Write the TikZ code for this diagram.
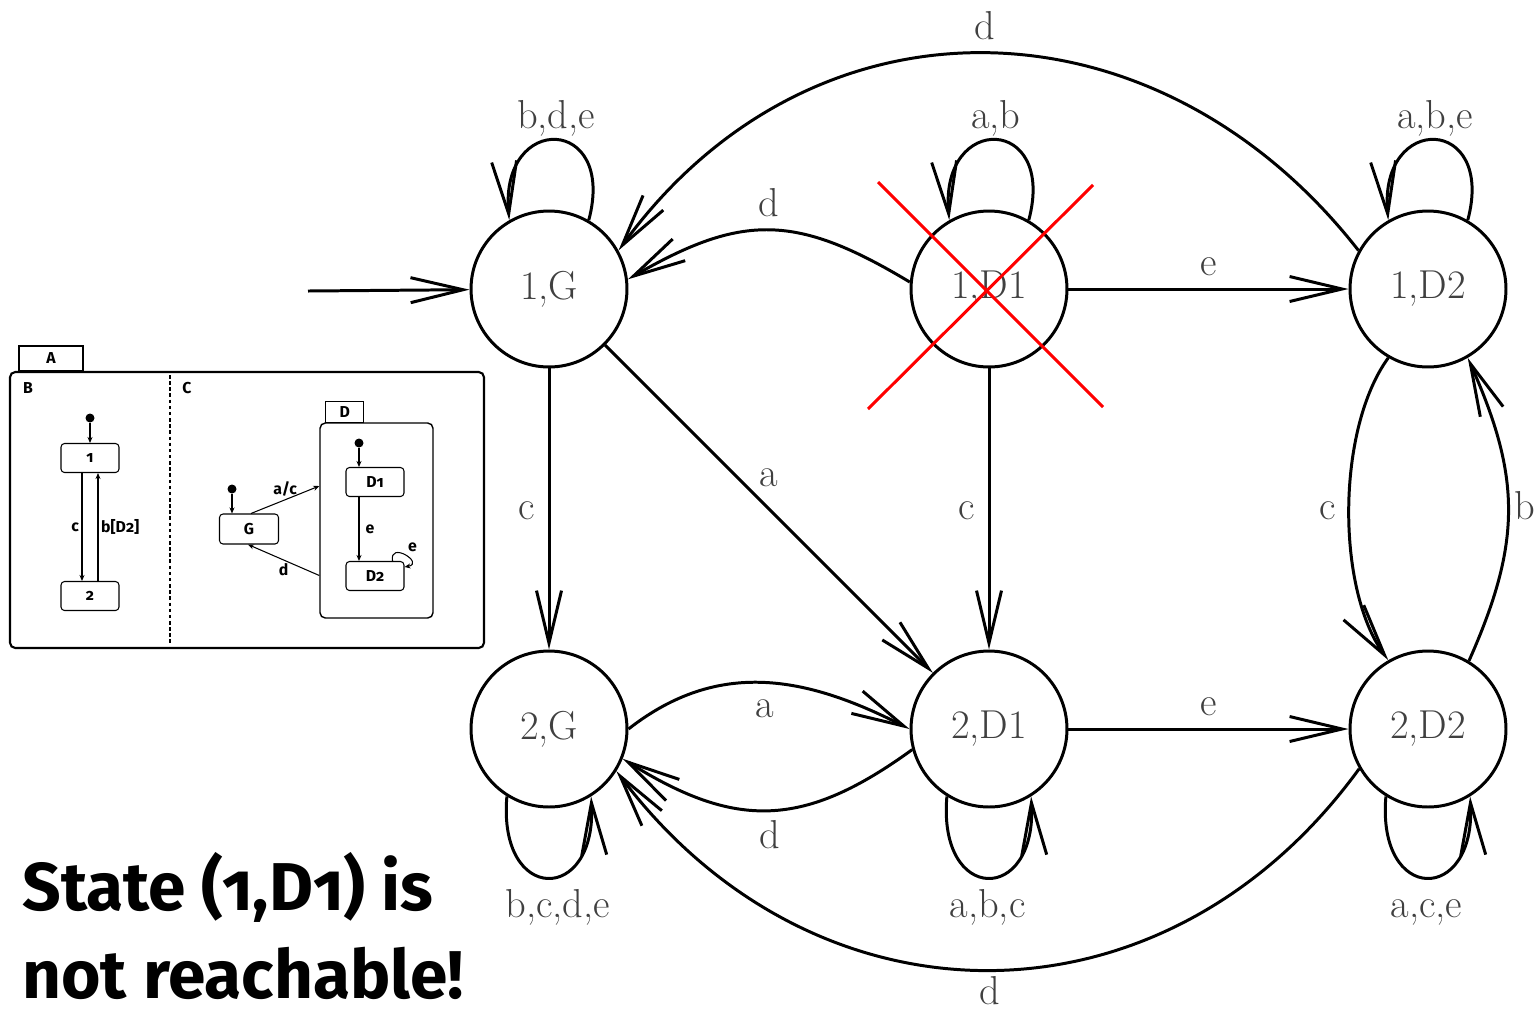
\documentclass[tikz,border=0pt]{standalone}
\usepackage{fontspec}
\newfontfamily\firasans[Numbers=OldStyle]{Fira Sans}
\usetikzlibrary{arrows.meta,positioning}

\begin{document}
\begin{tikzpicture}[x=0.02cm,y=0.02cm,
    prodstate/.style={draw,circle,line width=1.7pt,minimum size=3.12cm,inner sep=0pt,
      text=black!75,font=\fontsize{23}{27}\selectfont},
    trans/.style={line width=1.7pt,-{Straight Barb[length=1.05cm,width=0.5cm]}},
    lbl/.style={text=black!75,font=\fontsize{23}{27}\selectfont,inner sep=3pt,
      text height=16pt,text depth=4pt},
    crossout/.style={red,line width=1.7pt},
    bigtext/.style={anchor=base west,inner sep=0pt,font=\firasans\bfseries\fontsize{38.5}{44}\selectfont},
    ministate/.style={draw,rounded corners=2pt,line width=0.6pt,minimum width=1.16cm,
      minimum height=0.58cm,inner sep=0pt,font=\firasans\bfseries\fontsize{9}{10}\selectfont},
    minilbl/.style={font=\firasans\bfseries\fontsize{9}{10}\selectfont,inner sep=1.5pt},
    minitrans/.style={line width=0.6pt,-{Stealth[length=0.12cm,width=0.1cm]}},
    initdot/.style={circle,fill,inner sep=0pt,minimum size=0.18cm}]
\useasboundingbox (0,0) rectangle (1538,-1012);

% product automaton
\node [prodstate] (s1G)  at ( 549,-289) {1,G};
\node [prodstate] (s1D1) at ( 989,-289) {1,D1};
\node [prodstate] (s1D2) at (1428,-289) {1,D2};
\node [prodstate] (s2G)  at ( 549,-729) {2,G};
\node [prodstate] (s2D1) at ( 989,-729) {2,D1};
\node [prodstate] (s2D2) at (1428,-729) {2,D2};
\coordinate (start) at (308,-291);

\draw [trans] (start) -- (s1G);

% self loops
\draw [trans] (s1G.60)  to[out=75,in=95,looseness=3.5]
    node[lbl,above,inner sep=2pt] {b,d,e} (s1G.120);
\draw [trans] (s1D1.60) to[out=75,in=95,looseness=3.5]
    node[lbl,above,inner sep=2pt] {a,b} (s1D1.120);
\draw [trans] (s1D2.60) to[out=75,in=95,looseness=3.5]
    node[lbl,above,inner sep=2pt] {a,b,e} (s1D2.120);
\draw [trans] (s2G.238)  to[out=265,in=273,looseness=3.3]
    node[lbl,below=3pt,xshift=0.2cm] {b,c,d,e} (s2G.302);
\draw [trans] (s2D1.238) to[out=265,in=273,looseness=3.3]
    node[lbl,below=3pt] {a,b,c} (s2D1.302);
\draw [trans] (s2D2.238) to[out=265,in=273,looseness=3.3]
    node[lbl,below=3pt] {a,c,e} (s2D2.302);

% upper row
\draw [trans] (s1D1.175) to[out=149,in=30,looseness=1.2]
    node[lbl,above] {d} (s1G.7);
\draw [trans] (s1D2.151) to[out=128,in=54,looseness=1.14]
    node[lbl,above] {d} (s1G.29);
\draw [trans] (s1D1) -- node[lbl,above] {e} (s1D2);

% down
\draw [trans] (s1G) -- node[lbl,left=4pt] {c} (s2G);
\draw [trans] (s1G) -- node[lbl,above=5pt] {a} (s2D1);
\draw [trans] (s1D1) -- node[lbl,left=4pt] {c} (s2D1);
\draw [trans] (s1D2.240) to[out=234,in=126,looseness=0.75]
    node[lbl,left=4pt] {c} (s2D2.120);
\draw [trans] (s2D2.59) to[out=66,in=-66,looseness=1.1]
    node[lbl,right] {b} (s1D2.-60);

% lower row
\draw [trans] (s2G.0) to[out=38,in=153,looseness=1.05]
    node[lbl,below] {a} (s2D1.180);
\draw [trans] (s2D1.195) to[out=216,in=-32,looseness=1.18]
    node[lbl,below=2pt] {d} (s2G.-22);
\draw [trans] (s2D1) -- node[lbl,above] {e} (s2D2);
\draw [trans] (s2D2.210) to[out=234,in=-53,looseness=1.14]
    node[lbl,below=0pt] {d} (s2G.-32);

% unreachable
\draw [crossout] (878,-182) -- (1103,-407);
\draw [crossout] (868,-409) -- (1093,-185);

\node [bigtext] (msg1) at (22,-910) {State (1,D1) is};
\node [bigtext] (msg2) at (22,-998) {not reachable!};

% statechart A
\draw [line width=1.2pt,rounded corners=3pt] (10,-372) rectangle (484,-648);
\node [draw,line width=1.2pt,anchor=south west,minimum width=1.28cm,minimum height=0.5cm,
    inner sep=0pt,font=\firasans\bfseries\fontsize{9}{10}\selectfont] (tabA) at (18,-372) {A};
\draw [line width=0.6pt,dash pattern=on 2pt off 1.5pt] (170,-375) -- (170,-645);
\node [minilbl] (nameB) at (28,-388)  {B};
\node [minilbl] (nameC) at (187,-388) {C};

\node [initdot]   (b0) at (90,-418) {};
\node [ministate] (b1) at (90,-458) {1};
\node [ministate] (b2) at (90,-596) {2};
\draw [minitrans] (b0) -- (b1);
\draw [minitrans] ([xshift=-0.16cm]b1.south) -- node[minilbl,left] {c} ([xshift=-0.16cm]b2.north);
\draw [minitrans] ([xshift=0.16cm]b2.north) -- node[minilbl,right] {b[D2]} ([xshift=0.16cm]b1.south);

\node [initdot]   (g0) at (232,-489) {};
\node [ministate,minimum width=1.18cm,minimum height=0.6cm] (g) at (249,-529) {G};
\draw [minitrans] (g0) -- (g0 |- g.north);

\node [draw,rounded corners=3pt,line width=0.8pt,minimum width=2.26cm,minimum height=3.9cm]
    (dbox) at (376.5,-520.5) {};
\node [draw,line width=0.8pt,anchor=south west,minimum width=0.76cm,minimum height=0.42cm,
    inner sep=0pt,font=\firasans\bfseries\fontsize{9}{10}\selectfont] (tabD) at (325,-423) {D};
\node [initdot]   (dd0) at (359,-443) {};
\node [ministate] (dd1) at (375,-482) {D1};
\node [ministate] (dd2) at (375,-576) {D2};
\draw [minitrans] (dd0) -- (dd0 |- dd1.north);
\draw [minitrans] (dd1.south -| dd0) -- node[minilbl,right=2pt] {e} (dd2.north -| dd0);
\draw [minitrans] ([xshift=-0.24cm]dd2.north east) to[out=100,in=10,looseness=4]
    node[minilbl,above right] {e} ([yshift=-0.12cm]dd2.north east);
\draw [minitrans] ([xshift=0.04cm]g.north) -- node[minilbl,above] {a/c} ([yshift=0.69cm]dbox.west);
\draw [minitrans] ([yshift=-1.1cm]dbox.west) -- node[minilbl,below] {d} ([xshift=-0.02cm]g.south);
\end{tikzpicture}
\end{document}
